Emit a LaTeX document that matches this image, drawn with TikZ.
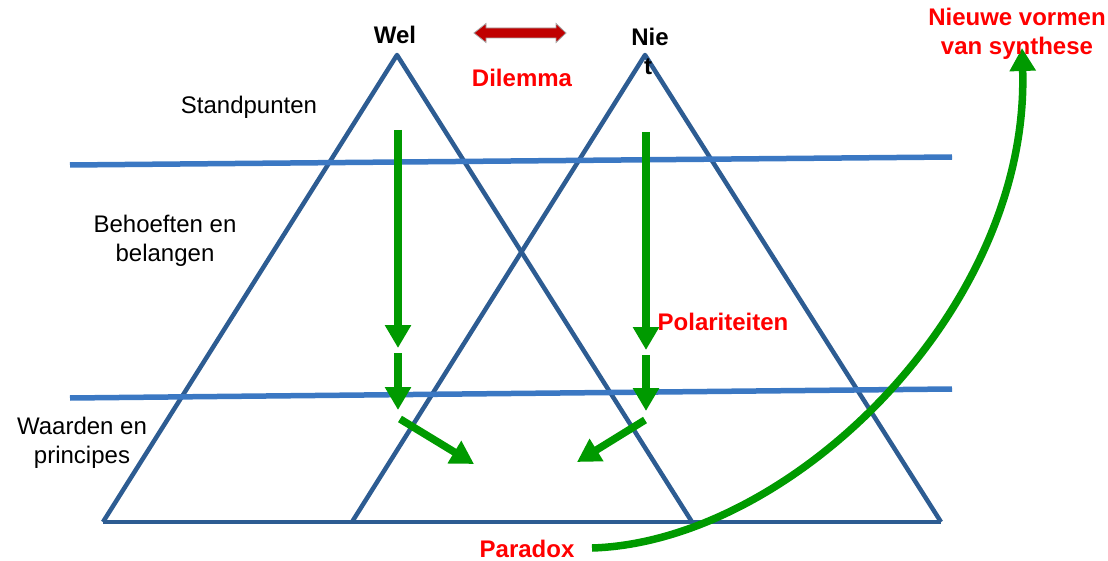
\documentclass[tikz,border=0pt]{standalone}
\usepackage{fontspec}
\setmainfont{Liberation Sans}
\usetikzlibrary{arrows.meta}
\definecolor{tri}{HTML}{2D5C92}
\definecolor{hline}{HTML}{3B78C3}
\definecolor{grn}{HTML}{009A00}
\definecolor{dred}{HTML}{C00000}
\definecolor{lred}{HTML}{FF0000}
\begin{document}
\begin{tikzpicture}[x=1pt,y=-1pt,
  txt/.style={font=\fontsize{24}{29}\selectfont,align=center,inner sep=0pt},
  btxt/.style={txt,font=\fontsize{24}{29}\selectfont\bfseries},
  rtxt/.style={btxt,text=lred},
  triline/.style={draw=tri,line width=4.5pt,line join=round},
  hl/.style={draw=hline,line width=5.5pt},
  garrow/.style={draw=grn,line width=7.5pt,-{Triangle[width=25pt,length=23pt]}},
]
\useasboundingbox (0,0) rectangle (1108,561);
% triangles
\coordinate (LA) at (397,55);
\coordinate (LL) at (103,522);
\coordinate (LR) at (692,522);
\coordinate (RA) at (645,55);
\coordinate (RL) at (352,522);
\coordinate (RR) at (941,522);
\draw[triline] (LL) -- (LA) -- (LR);
\draw[triline] (RL) -- (RA) -- (RR);
\draw[triline] (LL) -- (RR);
% horizontal lines
\coordinate (h1a) at (70,165); \coordinate (h1b) at (952,157);
\coordinate (h2a) at (70,398); \coordinate (h2b) at (952,389);
\draw[hl] (h1a) -- (h1b);
\draw[hl] (h2a) -- (h2b);
% green arrows
\coordinate (a1s) at (398,130); \coordinate (a1e) at (398,348);
\coordinate (a2s) at (398,353); \coordinate (a2e) at (398,410);
\coordinate (a3s) at (646,132); \coordinate (a3e) at (646,350);
\coordinate (a4s) at (646,355); \coordinate (a4e) at (646,411);
\coordinate (a5s) at (400,419); \coordinate (a5e) at (474,464);
\coordinate (a6s) at (645,420); \coordinate (a6e) at (577,462);
\draw[garrow] (a1s) -- (a1e);
\draw[garrow] (a2s) -- (a2e);
\draw[garrow] (a3s) -- (a3e);
\draw[garrow] (a4s) -- (a4e);
\draw[garrow] (a5s) -- (a5e);
\draw[garrow] (a6s) -- (a6e);
% curved arrow
\coordinate (cs) at (592,548);
\coordinate (ce) at (1022,48);
\draw[garrow] (cs) .. controls (790,542) and (1030,310) .. (ce);
% red double arrow
\fill[dred,draw=gray!70,line width=0.8pt]
  (474,33) -- (486,23.5) -- (486,28) -- (556,28) -- (556,23.5) -- (566,33)
  -- (556,42.5) -- (556,38) -- (486,38) -- (486,42.5) -- cycle;
% labels
\node[btxt] (wel) at (395,35) {Wel};
\node[btxt] (nie) at (650,37) {Nie};
\node[btxt] (niet) at (648,67) {t};
\node[rtxt] (dil) at (522,78) {Dilemma};
\node[txt] (stand) at (249,107) {Standpunten};
\node[txt] (behoef) at (165,241) {Behoeften en\\belangen};
\node[txt] (waard) at (82,443) {Waarden en\\principes};
\node[rtxt] (pol) at (723,322) {Polariteiten};
\node[rtxt,anchor=base] (par) at (527,557) {Paradox};
\node[rtxt] (nieuw) at (1017,34) {Nieuwe vormen\\van synthese};
\end{tikzpicture}
\end{document}
